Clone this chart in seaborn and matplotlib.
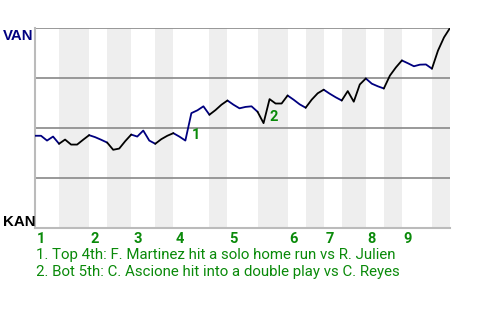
import matplotlib
matplotlib.use("Agg")
import matplotlib.pyplot as plt
import seaborn as sns
import pandas as pd

# Win probability for VAN (%), one value per play
wp = [46.2, 46.2, 43.8, 45.8, 42.2, 44.3, 41.8, 41.8, 44.2, 46.5,
      45.5, 44.2, 42.8, 39.2, 39.8, 43.5, 46.8, 45.8, 48.8, 43.8,
      42.2, 44.5, 46.2, 47.5, 45.8, 43.8, 57.5, 58.9, 60.9, 56.7,
      59.0, 61.7, 63.8, 61.7, 59.9, 60.6, 60.9, 58.2, 52.5, 64.5,
      62.3, 62.3, 66.3, 64.2, 61.9, 60.2, 64.2, 67.4, 69.2, 67.2,
      65.4, 63.8, 68.5, 63.2, 71.8, 74.8, 72.2, 70.9, 69.8, 76.2,
      80.3, 83.8, 82.4, 80.9, 81.7, 81.8, 79.7, 88.7, 95.3, 100.0]

# play index where each half inning ends (top 1, bot 1, top 2, ...)
half_ends = [4, 9, 12, 16, 20, 23, 29, 32, 37, 42, 45, 48, 51, 55, 58, 61, 66, 69]
innings = ["1", "2", "3", "4", "5", "6", "7", "8", "9"]
teams = ["VAN", "KAN"]

events = [
    (26, "1", "1. Top 4th: F. Martinez hit a solo home run vs R. Julien"),
    (39, "2", "2. Bot 5th: C. Ascione hit into a double play vs C. Reyes"),
]

NAVY = "#000080"
GREEN = "#0a8a0a"

rows = []
start = 0
for h, end in enumerate(half_ends):
    team = teams[h % 2]
    for i in range(start, end + 1):
        rows.append({"play": i, "wp": wp[i], "seg": h, "team": team})
    start = end
df = pd.DataFrame(rows)

sns.set_theme(style="white")
plt.rcParams["font.family"] = ["Roboto", "DejaVu Sans"]

fig = plt.figure(figsize=(4.8, 3.2), dpi=100)
ax = fig.add_axes([35 / 480, 1 - 228.3 / 320, 415 / 480, 200.3 / 320])

# shaded bottom halves
bounds = [0] + half_ends
for h in range(len(half_ends)):
    if h % 2 == 1:
        ax.axvspan(bounds[h], bounds[h + 1], color="#eeeeee", lw=0, zorder=0)

for yv in [25, 50, 75, 100]:
    ax.axhline(yv, color="#888888", lw=1.2, zorder=1)

sns.lineplot(data=df, x="play", y="wp", hue="team", units="seg", estimator=None,
             palette={"VAN": NAVY, "KAN": "black"}, legend=False, lw=1.3,
             ax=ax, zorder=3)

ax.set_xlim(0, half_ends[-1])
ax.set_ylim(0, 100)
ax.set_xticks([])
ax.set_yticks([])
ax.set_xlabel("")
ax.set_ylabel("")
for s in ["top", "right"]:
    ax.spines[s].set_visible(False)
for s in ["left", "bottom"]:
    ax.spines[s].set_color("#bbbbbb")
    ax.spines[s].set_linewidth(1.5)

# inning labels
inning_starts = [0] + half_ends[1:-1:2]
for x0, lab in zip(inning_starts, innings):
    ax.text(x0 + 0.3, -2, lab, color=GREEN, fontsize=10.5, fontweight="bold",
            ha="left", va="top")

# event markers
for idx, lab, _ in events:
    ax.text(idx, wp[idx - 1] - 0.5, lab, color=GREEN, fontsize=10.5,
            fontweight="bold", ha="left", va="bottom", zorder=4)

fig.text(3 / 480, 1 - 28.5 / 320, teams[0], color=NAVY, fontsize=10.8,
         fontweight="bold", family="Liberation Sans", ha="left", va="top")
fig.text(3 / 480, 1 - 229 / 320, teams[1], color="black", fontsize=10.8,
         fontweight="bold", family="Liberation Sans", ha="left", va="bottom")

for k, (_, _, txt) in enumerate(events):
    fig.text(36 / 480, 1 - (254.5 + 17.5 * k) / 320, txt, color=GREEN,
             fontsize=10.8, ha="left", va="center")

fig.savefig("out.png", dpi=100)
